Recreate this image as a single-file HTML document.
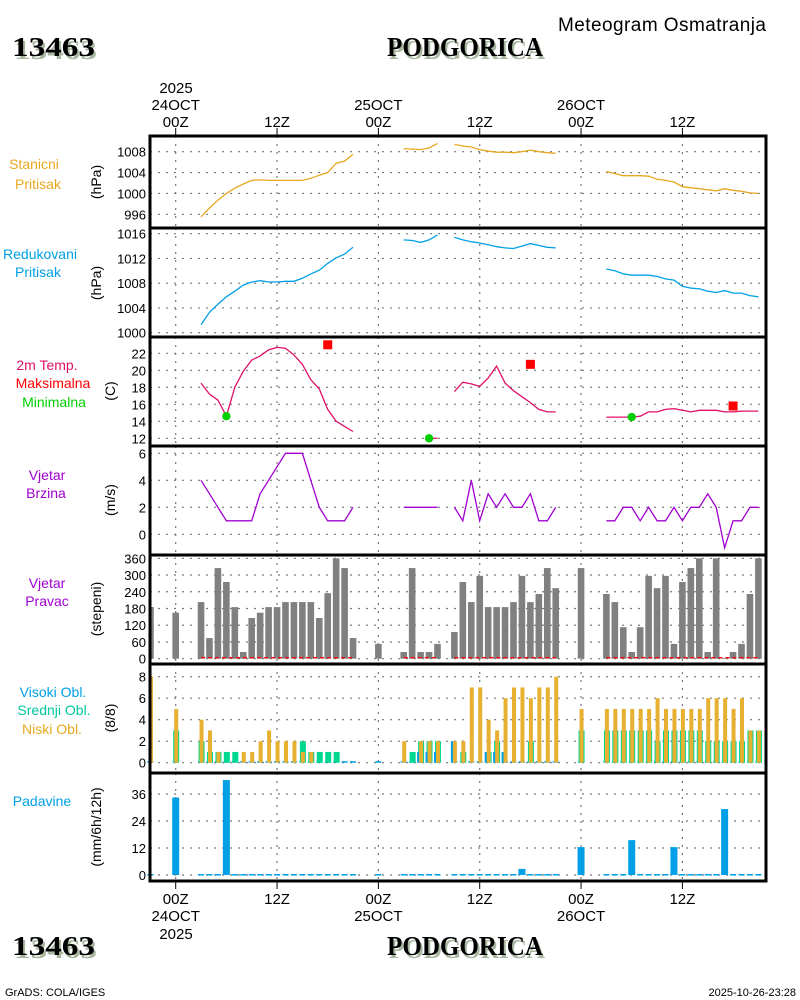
<!DOCTYPE html>
<html><head><meta charset="utf-8"><title>Meteogram Podgorica</title>
<style>
html,body{margin:0;padding:0;background:#fff;}
svg{display:block;font-family:"Liberation Sans",sans-serif;}
</style></head>
<body>
<svg id="chart" width="800" height="1000" viewBox="0 0 800 1000" xmlns="http://www.w3.org/2000/svg">
<rect x="0" y="0" width="800" height="1000" fill="#fff"/>
</svg>
<script>
// ---------- DATA ----------
const obsHours = [-3,0,3,4,5,6,7,8,9,10,11,12,13,14,15,16,17,18,19,20,21,24,27,28,29,30,31,33,34,35,36,37,38,39,40,41,42,43,44,45,48,51,52,53,54,55,56,57,58,59,60,61,62,63,64,65,66,67,68,69];
const stationP = [null,null,995.5,997.2,998.7,1000,1001,1001.8,1002.5,1002.6,1002.5,1002.5,1002.5,1002.5,1002.5,1002.9,1003.5,1004,1005.8,1006.2,1007.5,null,1008.6,1008.5,1008.4,1008.7,1009.6,1009.4,1009.1,1008.9,1008.4,1008.1,1007.9,1007.9,1007.8,1008.0,1008.3,1008.0,1007.8,1007.7,null,1004.2,1003.8,1003.4,1003.4,1003.4,1003.3,1002.7,1002.5,1002.2,1001.3,1001.1,1000.9,1000.7,1000.5,1000.9,1000.6,1000.4,1000.1,1000];
const reducedP = [null,null,1001.3,1003.3,1004.6,1005.8,1006.7,1007.7,1008.2,1008.4,1008.2,1008.2,1008.3,1008.3,1008.8,1009.5,1010.1,1011.2,1012.1,1012.7,1013.8,null,1015,1014.9,1014.6,1015,1015.8,1015.4,1015,1014.7,1014.5,1014.2,1013.9,1013.7,1013.6,1014,1014.4,1014.1,1013.8,1013.7,null,1010.3,1010,1009.5,1009.3,1009.3,1009.3,1009.1,1008.7,1008.5,1007.5,1007.2,1007.1,1006.7,1006.5,1006.8,1006.4,1006.4,1006,1005.8];
const temp2m = [null,null,18.5,17.2,16.5,14.6,18,19.9,21.2,21.7,22.4,22.7,22.6,21.8,20.7,18.9,17.8,15.4,14,13.4,12.8,null,null,null,null,12,12,17.5,18.6,18.4,18.1,19.1,20.5,18.5,17.6,16.9,16.2,15.4,15.1,15.1,null,14.5,14.5,14.5,14.5,14.6,15.1,15.1,15.4,15.5,15.3,15.1,15.3,15.3,15.3,15.1,15.1,15.2,15.2,15.2];
const maxHours = [18,42,66];
const maxTemps = [23,20.7,15.8];
const minHours = [6,30,54];
const minTemps = [14.6,12,14.5];
const windSpeed = [null,null,4,3,2,1,1,1,1,3,4,5,6,6,6,4,2,1,1,1,2,null,2,2,2,2,2,2,1,4,1,3,2,3,2,2,3,1,1,2,null,1,1,2,2,1,2,1,1,2,1,2,2,3,2,-1,1,1,2,2];
const windDir = [185,165,203,74,325,275,185,24,146,165,185,185,203,203,203,203,146,235,360,325,74,53,24,325,24,24,53,96,275,203,297,185,185,185,203,297,203,232,325,253,325,232,203,113,24,113,297,253,297,53,275,325,360,24,360,3,24,53,232,360];
const cloudHigh = [0,0,0,0,0,0,0,0,0,0,0,0,0,0,0,0,0,0,0,0,0,0,0,0,1,1,1,2,0,0,0,1,1,1,0,0,0,0,0,0,0,0,0,0,0,0,0,0,0,0,0,0,0,0,0,0,0,0,0,0];
const cloudMid = [0,3,2,1,1,1,1,0,0,0,0,0,0,0,2,1,1,1,1,0,0,0,0,1,2,2,2,0,1,0,0,1,2,0,0,0,2,0,0,0,3,3,3,3,3,3,3,2,3,3,3,3,3,2,2,2,2,2,3,3];
const cloudLow = [8,5,4,3,1,0,0,1,1,2,3,2,2,2,1,1,0,0,0,0,0,0,2,0,2,2,2,2,2,7,7,4,3,6,7,7,6,7,7,8,5,5,5,5,5,5,5,6,5,5,5,5,5,6,6,6,5,6,3,3];
const precip = [0,34.4,0,0,0,42.2,0,0,0,0,0,0,0,0,0,0,0,0,0,0,0,0,0,0,0,0,0,0,0,0,0,0,0,0,0,2.7,0,0,0,0,12.4,0,0,0,15.5,0,0,0,0,12.4,0,0,0,0,0,29.3,0,0,0,0];
const ticksP1 = [996,1000,1004,1008];
const ticksP2 = [1000,1004,1008,1012,1016];
const ticksP3 = [12,14,16,18,20,22];
const ticksP4 = [0,2,4,6];
const ticksP5 = [0,60,120,180,240,300,360];
const ticksP6 = [0,2,4,6,8];
const ticksP7 = [0,12,24,36];
const timeTickHours = [0,12,24,36,48,60];
const timeTickLabels = ["00Z","12Z","00Z","12Z","00Z","12Z"];
const dayLabelHours = [0,24,48];
const dayLabels = ["24OCT","25OCT","26OCT"];

// ---------- HELPERS ----------
const NS = "http://www.w3.org/2000/svg";
const svg = document.getElementById("chart");
function mk(tag, attrs, parent) {
  const e = document.createElementNS(NS, tag);
  for (const k in attrs) e.setAttribute(k, attrs[k]);
  (parent || svg).appendChild(e);
  return e;
}
function txt(s, x, y, attrs, parent) {
  const e = mk("text", Object.assign({x: x, y: y}, attrs || {}), parent);
  e.textContent = s;
  return e;
}
const X0 = 150, X1 = 766;
function xH(h) { return 175.7 + h * 8.445; }
function lin(v1, y1, v2, y2) { return v => y1 + (v - v1) * (y2 - y1) / (v2 - v1); }

const panels = [
  {name:"station-pressure", top:136, bot:228, y: lin(1008,151.7,996,214.3), ticks: ticksP1},
  {name:"reduced-pressure", top:228, bot:337, y: lin(1016,233.7,1000,332.7), ticks: ticksP2},
  {name:"temperature", top:337, bot:446, y: lin(22,353.3,12,438.3), ticks: ticksP3},
  {name:"wind-speed", top:446, bot:555, y: lin(6,453.3,0,534.3), ticks: ticksP4},
  {name:"wind-direction", top:555, bot:664, y: lin(360,558.3,0,658.7), ticks: ticksP5},
  {name:"cloud-cover", top:664, bot:773, y: lin(8,676.7,0,762.7), ticks: ticksP6},
  {name:"precipitation", top:773, bot:881, y: lin(36,794,0,875), ticks: ticksP7}
];
const defs = mk("defs", {});
panels.forEach((p, i) => {
  const cp = mk("clipPath", {id: "clip" + i}, defs);
  mk("rect", {x: X0, y: p.top, width: X1 - X0, height: p.bot - p.top}, cp);
  const cp2 = mk("clipPath", {id: "clipw" + i}, defs);
  mk("rect", {x: X0 + 1.5, y: p.top, width: X1 - X0, height: p.bot - p.top}, cp2);
});

// ---------- GRID & AXES ----------
panels.forEach((p, i) => {
  const g = mk("g", {});
  
  
  p.g = g;
  p.ticks.forEach(v => {
    const yy = p.y(v);
    const gl = mk("line", {x1: X0, x2: X1, y1: yy, y2: yy, stroke: "#777", "stroke-width": 1.2, "stroke-dasharray": "2,6"}, g);
    
    
    const tl = txt(String(v), 146, yy + 5, {"text-anchor": "end", "font-size": 13, fill: "#000"}, g);
    
    
  });
  timeTickHours.forEach(h => {
    const vl = mk("line", {x1: xH(h), x2: xH(h), y1: p.top, y2: p.bot, stroke: "#777", "stroke-width": 1.2, "stroke-dasharray": "2,6"}, g);
    
    
  });
});

// ---------- SERIES ----------
function drawLine(p, pi, values, color, name) {
  let segs = [], cur = [];
  obsHours.forEach((h, i) => {
    const v = values[i];
    if (v === null) { if (cur.length) segs.push(cur); cur = []; return; }
    if (cur.length && h - cur[cur.length - 1][2] > 1) { segs.push(cur); cur = []; }
    cur.push([xH(h), p.y(v), h]);
  });
  if (cur.length) segs.push(cur);
  segs.forEach(s => {
    const pl = mk("polyline", {points: s.map(q => q[0].toFixed(1) + "," + q[1].toFixed(1)).join(" "), fill: "none", stroke: color, "stroke-width": 1.3, "clip-path": "url(#clip" + pi + ")"}, p.g);
    
    
  });
  return segs;
}
drawLine(panels[0], 0, stationP, "#E8A820", "station-pressure-line");
drawLine(panels[1], 1, reducedP, "#00A0E6", "reduced-pressure-line");
drawLine(panels[2], 2, temp2m, "#E0106A", "temperature-line");
maxHours.forEach((h, i) => {
  const r = mk("rect", {x: xH(h) - 4.5, y: panels[2].y(maxTemps[i]) - 4.5, width: 9, height: 9, fill: "#FF0000"}, panels[2].g);
  
  
});
minHours.forEach((h, i) => {
  const c = mk("circle", {cx: xH(h), cy: panels[2].y(minTemps[i]), r: 4.2, fill: "#00D000", "clip-path": "url(#clip2)"}, panels[2].g);
  
  
});
const windSegs = drawLine(panels[3], 3, windSpeed, "#A000D0", "wind-speed-line");

// wind direction bars
const p5 = panels[4];
obsHours.forEach((h, i) => {
  const v = windDir[i];
  const yt = p5.y(v), yb = p5.y(0);
  const b = mk("rect", {x: xH(h) - 3.3, y: yt, width: 6.6, height: Math.max(yb - yt, 0.8), fill: "#808080", "clip-path": "url(#clip4)"}, p5.g);
  
  
});
windSegs.forEach(s => {
  const l = mk("line", {x1: s[0][0], x2: s[s.length - 1][0], y1: p5.y(0) - 1, y2: p5.y(0) - 1, stroke: "#FF0000", "stroke-width": 1.3, "stroke-dasharray": "4,3"}, p5.g);
  
  
});

// clouds
const p6 = panels[5];
obsHours.forEach((h, i) => {
  const x = xH(h), yb = p6.y(0);
  const dz = mk("rect", {x: x - 3, y: yb - 1.5, width: 6, height: 1.5, fill: "#00A0E6"}, p6.g);
  
  
  if (cloudMid[i] > 0) {
    const m = mk("rect", {x: x - 2.5, y: p6.y(cloudMid[i]), width: 6, height: yb - p6.y(cloudMid[i]), fill: "#00D890"}, p6.g);
    
    
  }
  if (cloudHigh[i] > 0) {
    const hb = mk("rect", {x: x - 3.5, y: p6.y(cloudHigh[i]), width: 4.5, height: yb - p6.y(cloudHigh[i]), fill: "#00A0E6"}, p6.g);
    
    
  }
  if (cloudLow[i] > 0) {
    const lb = mk("rect", {x: x - 1.5, y: p6.y(cloudLow[i]), width: 4, height: yb - p6.y(cloudLow[i]), fill: "#E8B030", "clip-path": "url(#clip5)"}, p6.g);
    
    
  }
});

// precipitation
const p7 = panels[6];
obsHours.forEach((h, i) => {
  const x = xH(h), yb = p7.y(0);
  const v = precip[i];
  if (v > 0) {
    const b = mk("rect", {x: x - 3.5, y: p7.y(v), width: 7, height: yb - p7.y(v), fill: "#00A0E6"}, p7.g);
    
    
  } else {
    const d = mk("rect", {x: x - 3, y: yb - 1, width: 6, height: 1.5, fill: "#00A0E6"}, p7.g);
    
    
  }
});

// ---------- FRAMES ----------
panels.forEach(p => {
  const f = mk("rect", {x: X0, y: p.top, width: X1 - X0, height: p.bot - p.top, fill: "none", stroke: "#000", "stroke-width": 3});
  
  
});
// left-edge bars drawn over frame inner half so they remain visible like the reference
obsHours.forEach((h, i) => {
  if (xH(h) - 3.3 < X0 + 1.5) {
    const b = mk("rect", {x: xH(h) - 3.3, y: p5.y(windDir[i]), width: 6.6, height: p5.y(0) - p5.y(windDir[i]), fill: "#808080", "clip-path": "url(#clipw4)"});
    
    
    if (cloudLow[i] > 0) {
      const lb = mk("rect", {x: xH(h) - 1.5, y: p6.y(cloudLow[i]), width: 4, height: p6.y(0) - p6.y(cloudLow[i]), fill: "#E8B030", "clip-path": "url(#clipw5)"});
      
      
    }
  }
});
timeTickHours.forEach((h, i) => {
  const t1 = mk("line", {x1: xH(h), x2: xH(h), y1: 128, y2: 136, stroke: "#000", "stroke-width": 1});
  
  
  const t2 = mk("line", {x1: xH(h), x2: xH(h), y1: 881, y2: 889, stroke: "#000", "stroke-width": 1});
  
  
  const a = txt(timeTickLabels[i], xH(h), 127, {"text-anchor": "middle", "font-size": 15, fill: "#000"});
  
  
  const b = txt(timeTickLabels[i], xH(h), 904, {"text-anchor": "middle", "font-size": 15, fill: "#000"});
  
  
});
dayLabelHours.forEach((h, i) => {
  const a = txt(dayLabels[i], xH(h), 110, {"text-anchor": "middle", "font-size": 15, fill: "#000"});
  
  
  const b = txt(dayLabels[i], xH(h), 921, {"text-anchor": "middle", "font-size": 15, fill: "#000"});
  
  
});
</script>
<svg style="position:absolute;left:0;top:0" width="800" height="1000">
<g font-family="Liberation Sans, sans-serif">
<text x="176" y="93" text-anchor="middle" font-size="15">2025</text>
<text x="176" y="939" text-anchor="middle" font-size="15">2025</text>
<text x="662" y="31" text-anchor="middle" font-size="19" textLength="208">Meteogram Osmatranja</text>
<g font-family="Liberation Serif, serif" font-weight="bold" font-size="27" lengthAdjust="spacingAndGlyphs">
<text x="14" y="59" fill="#a8b8a0" textLength="83" lengthAdjust="spacingAndGlyphs">13463</text>
<text x="12" y="56" textLength="83" lengthAdjust="spacingAndGlyphs">13463</text>
<text x="389" y="59" fill="#a8b8a0" textLength="156" lengthAdjust="spacingAndGlyphs">PODGORICA</text>
<text x="387" y="56" textLength="156" lengthAdjust="spacingAndGlyphs">PODGORICA</text>
<text x="14" y="958" fill="#a8b8a0" textLength="83" lengthAdjust="spacingAndGlyphs">13463</text>
<text x="12" y="955" textLength="83" lengthAdjust="spacingAndGlyphs">13463</text>
<text x="389" y="958" fill="#a8b8a0" textLength="156" lengthAdjust="spacingAndGlyphs">PODGORICA</text>
<text x="387" y="955" textLength="156" lengthAdjust="spacingAndGlyphs">PODGORICA</text>
</g>
<g font-size="14" text-anchor="middle">
<text x="34" y="169" fill="#E8A820">Stanicni</text>
<text x="38" y="189" fill="#E8A820">Pritisak</text>
<text x="40" y="259" fill="#00A0E6">Redukovani</text>
<text x="38" y="277" fill="#00A0E6">Pritisak</text>
<text x="47" y="370" fill="#E0106A">2m Temp.</text>
<text x="53" y="388" fill="#FF0000">Maksimalna</text>
<text x="54" y="407" fill="#00D000">Minimalna</text>
<text x="47" y="480" fill="#A000D0">Vjetar</text>
<text x="46" y="498" fill="#A000D0">Brzina</text>
<text x="47" y="588" fill="#A000D0">Vjetar</text>
<text x="47" y="606" fill="#A000D0">Pravac</text>
<text x="53" y="697" fill="#00A0E6">Visoki Obl.</text>
<text x="54" y="715" fill="#00C8A0">Srednji Obl.</text>
<text x="52" y="734" fill="#E8A820">Niski Obl.</text>
<text x="42" y="806" fill="#00A0E6">Padavine</text>
</g>
<g font-size="14" text-anchor="middle">
<text transform="translate(101,182) rotate(-90)">(hPa)</text>
<text transform="translate(101,283) rotate(-90)">(hPa)</text>
<text transform="translate(115,391) rotate(-90)">(C)</text>
<text transform="translate(115,500) rotate(-90)">(m/s)</text>
<text transform="translate(101,609) rotate(-90)">(stepeni)</text>
<text transform="translate(115,718) rotate(-90)">(8/8)</text>
<text transform="translate(101,827) rotate(-90)">(mm/6h/12h)</text>
</g>
<text x="5" y="996" font-size="11">GrADS: COLA/IGES</text>
<text x="796" y="996" font-size="11" text-anchor="end">2025-10-26-23:28</text>
</g>
</svg>
</body></html>
